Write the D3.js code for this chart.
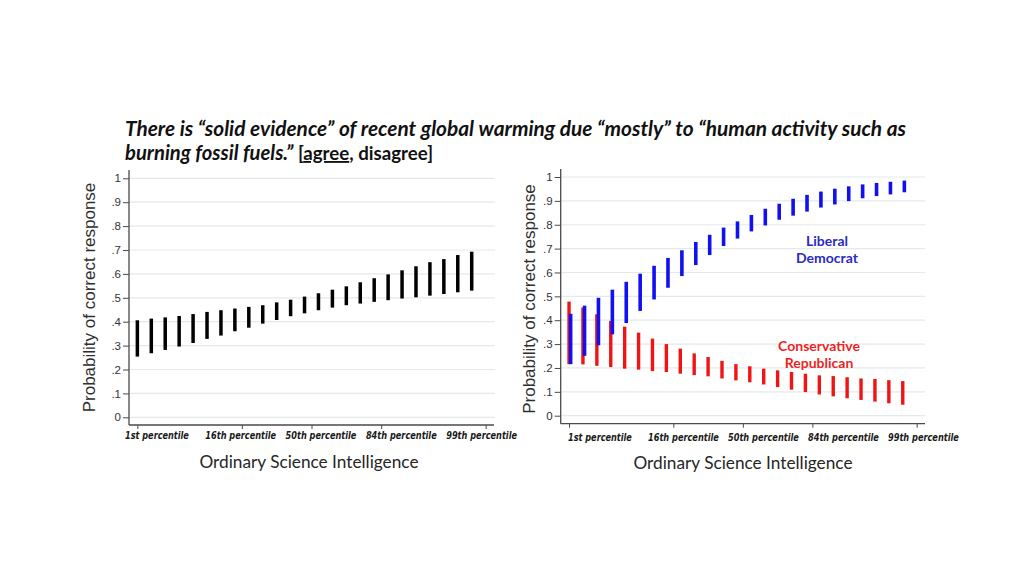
<!DOCTYPE html>
<html>
<head>
<meta charset="utf-8">
<script src="https://cdn.jsdelivr.net/npm/d3@7"></script>
<style>
  html, body { margin: 0; padding: 0; background: #fff; }
  svg { display: block; }
</style>
</head>
<body>
<svg id="chart" width="1024" height="576"></svg>
<script>
// ---------------- DATA ----------------
const titleLine1 = "There is \u201csolid evidence\u201d of recent global warming due \u201cmostly\u201d to \u201chuman activity such as";
const titleLine2a = "burning fossil fuels.\u201d";
const titleLine2b = " [";
const titleLine2c = "agree";
const titleLine2d = ", disagree]";

const yTitle = "Probability of correct response";
const xTitle = "Ordinary Science Intelligence";

// Ordinary Science Intelligence (z-score) at which each interval is shown
const osi = [-2.5, -2.3, -2.1, -1.9, -1.7, -1.5, -1.3, -1.1, -0.9, -0.7, -0.5, -0.3, -0.1,
             0.1, 0.3, 0.5, 0.7, 0.9, 1.1, 1.3, 1.5, 1.7, 1.9, 2.1, 2.3];

// Whole sample: lower / upper bounds
const allLo = [0.254, 0.268, 0.282, 0.296, 0.311, 0.328, 0.342, 0.360, 0.375, 0.392, 0.407, 0.423, 0.435,
               0.448, 0.459, 0.469, 0.476, 0.483, 0.490, 0.497, 0.502, 0.509, 0.516, 0.523, 0.530];
const allHi = [0.406, 0.413, 0.418, 0.424, 0.432, 0.441, 0.448, 0.455, 0.462, 0.469, 0.481, 0.492, 0.505,
               0.519, 0.534, 0.548, 0.565, 0.582, 0.598, 0.615, 0.632, 0.649, 0.662, 0.679, 0.693];

// Liberal Democrat
const libLo = [0.216, 0.251, 0.295, 0.341, 0.388, 0.439, 0.487, 0.536, 0.585, 0.631, 0.673, 0.711, 0.742,
               0.772, 0.797, 0.821, 0.838, 0.855, 0.872, 0.885, 0.899, 0.911, 0.920, 0.927, 0.936];
const libHi = [0.427, 0.461, 0.494, 0.528, 0.561, 0.595, 0.628, 0.661, 0.693, 0.728, 0.758, 0.788, 0.814,
               0.841, 0.867, 0.888, 0.909, 0.925, 0.939, 0.951, 0.961, 0.969, 0.975, 0.980, 0.985];

// Conservative Republican
const conLo = [0.216, 0.215, 0.209, 0.204, 0.197, 0.193, 0.187, 0.183, 0.176, 0.170, 0.165, 0.156, 0.148,
               0.140, 0.131, 0.120, 0.109, 0.099, 0.089, 0.081, 0.073, 0.066, 0.059, 0.052, 0.046];
const conHi = [0.478, 0.453, 0.425, 0.397, 0.373, 0.348, 0.323, 0.300, 0.281, 0.261, 0.246, 0.230, 0.216,
               0.207, 0.197, 0.190, 0.183, 0.176, 0.169, 0.166, 0.161, 0.156, 0.154, 0.149, 0.145];

const xTicks = [-2.5, -1, 0, 1, 2.5];
const xTickLabels = ["1st percentile", "16th percentile", "50th percentile", "84th percentile", "99th percentile"];
const yTicks = [0, 0.1, 0.2, 0.3, 0.4, 0.5, 0.6, 0.7, 0.8, 0.9, 1];
const yTickLabels = ["0", ".1", ".2", ".3", ".4", ".5", ".6", ".7", ".8", ".9", "1"];

const legendLib = ["Liberal", "Democrat"];
const legendCon = ["Conservative", "Republican"];

// ---------------- LAYOUT ----------------
const svg = d3.select("#chart");
svg.append("rect").attr("width", 1024).attr("height", 576).attr("fill", "#fff");

const panels = [
  { x0: 129, x1: 494, yTop: 170, y0: 417.3, y1: 178.3, axisY: 425, gridEnd: 495,
    labelStart: 125, labelStep: 80.3, labelBase: 438.5, titleX: 309, titleBase: 468,
    yTitleX: 89, yTitleY: 297.5 },
  { x0: 560.7, x1: 925, yTop: 169, y0: 415.7, y1: 177, axisY: 423.7, gridEnd: 925,
    labelStart: 568, labelStep: 80, labelBase: 440.5, titleX: 743, titleBase: 469,
    yTitleX: 529, yTitleY: 299 }
];

const gridColor = "#e4eaec";
const axisColor = "#4a4a4a";

// fit a text horizontally to a target width by scaling it
function fitWidth(sel, x, y, target) {
  sel.each(function () {
    const w = this.getComputedTextLength();
    const sx = w > 0 ? target / w : 1;
    d3.select(this).attr("transform", `translate(${x},${y}) scale(${sx},1)`);
  });
}

function drawPanel(p) {
  const g = svg.append("g");
  const x = d3.scaleLinear().domain([-2.62, 2.62]).range([p.x0, p.x1]);
  const y = d3.scaleLinear().domain([0, 1]).range([p.y0, p.y1]);

  // gridlines
  g.append("g").selectAll("line").data(yTicks).join("line")
    .attr("x1", p.x0).attr("x2", p.gridEnd)
    .attr("y1", d => y(d)).attr("y2", d => y(d))
    .attr("stroke", gridColor).attr("stroke-width", 1.2);

  // y axis
  const yAxis = d3.axisLeft(y).tickValues(yTicks)
    .tickFormat((d, i) => yTickLabels[i]).tickSize(6).tickPadding(2);
  const ya = g.append("g").attr("transform", `translate(${p.x0},0)`).call(yAxis);
  ya.select(".domain").remove();
  ya.selectAll(".tick line").attr("stroke", axisColor).attr("stroke-width", 1);
  ya.selectAll(".tick text").attr("fill", "#333")
    .style("font-family", "'Liberation Sans', Arial, sans-serif").style("font-size", "11.5px");
  g.append("line").attr("x1", p.x0).attr("x2", p.x0).attr("y1", p.yTop).attr("y2", p.axisY)
    .attr("stroke", axisColor).attr("stroke-width", 1.3);

  // x axis
  const xAxis = d3.axisBottom(x).tickValues(xTicks).tickFormat("").tickSize(4);
  const xa = g.append("g").attr("transform", `translate(0,${p.axisY})`).call(xAxis);
  xa.select(".domain").remove();
  xa.selectAll(".tick line").attr("stroke", axisColor).attr("stroke-width", 1);
  g.append("line").attr("x1", p.x0).attr("x2", p.x1).attr("y1", p.axisY).attr("y2", p.axisY)
    .attr("stroke", axisColor).attr("stroke-width", 1.3);

  // x tick labels (evenly spaced text boxes as in the original)
  const lab = g.append("g").selectAll("text").data(xTickLabels).join("text")
    .style("font-family", "'DejaVu Sans', Verdana, sans-serif")
    .style("font-weight", "bold").style("font-style", "italic")
    .style("font-size", "10.5px").attr("fill", "#1a1a1a")
    .text(d => d);
  lab.each(function (d, i) {
    fitWidth(d3.select(this), p.labelStart + i * p.labelStep, p.labelBase, i === 0 ? 64 : 71);
  });

  // x title
  g.append("text").attr("x", p.titleX).attr("y", p.titleBase)
    .attr("text-anchor", "middle")
    .attr("textLength", 219).attr("lengthAdjust", "spacingAndGlyphs")
    .style("font-family", "Lato, 'Open Sans', sans-serif").style("font-size", "17px")
    .attr("fill", "#262626").text(xTitle);

  // y title
  g.append("text")
    .attr("transform", `translate(${p.yTitleX},${p.yTitleY}) rotate(-90)`)
    .attr("text-anchor", "middle").attr("dy", "0.35em")
    .style("font-family", "'Liberation Sans', Arial, sans-serif").style("font-size", "17px")
    .attr("fill", "#2e2e2e").text(yTitle);

  return { g, x, y };
}

const L = drawPanel(panels[0]);
const R = drawPanel(panels[1]);

// Left: all respondents
L.g.append("g").selectAll("line").data(osi).join("line")
  .attr("x1", d => L.x(d)).attr("x2", d => L.x(d))
  .attr("y1", (d, i) => L.y(allLo[i])).attr("y2", (d, i) => L.y(allHi[i]))
  .attr("stroke", "#000").attr("stroke-width", 3.5);

// Right: Conservative Republican (red), then Liberal Democrat (blue) on top
R.g.append("g").selectAll("line").data(osi).join("line")
  .attr("x1", d => R.x(d)).attr("x2", d => R.x(d))
  .attr("y1", (d, i) => R.y(conLo[i])).attr("y2", (d, i) => R.y(conHi[i]))
  .attr("stroke", "#f01414").attr("stroke-width", 3.4);

R.g.append("g").selectAll("line").data(osi).join("line")
  .attr("x1", d => R.x(d) + 1.6).attr("x2", d => R.x(d) + 1.6)
  .attr("y1", (d, i) => R.y(libLo[i])).attr("y2", (d, i) => R.y(libHi[i]))
  .attr("stroke", "#1010f0").attr("stroke-width", 3.6);

// Legend labels
const legFont = "Lato, 'Open Sans', sans-serif";
R.g.append("g").selectAll("text").data(legendLib).join("text")
  .attr("x", 827).attr("y", (d, i) => 246 + i * 16.5)
  .attr("text-anchor", "middle")
  .style("font-family", legFont).style("font-weight", "bold").style("font-size", "14px")
  .attr("fill", "#2a2ac4").text(d => d);

R.g.append("g").selectAll("text").data(legendCon).join("text")
  .attr("x", 819).attr("y", (d, i) => 351 + i * 16.5)
  .attr("text-anchor", "middle")
  .style("font-family", legFont).style("font-weight", "bold").style("font-size", "14px")
  .attr("fill", "#ee2424").text(d => d);

// Title
const tFont = "Lato, 'Open Sans', sans-serif";
svg.append("text").attr("x", 125).attr("y", 136)
  .attr("textLength", 781).attr("lengthAdjust", "spacingAndGlyphs")
  .style("font-family", tFont).style("font-weight", "bold").style("font-style", "italic")
  .style("font-size", "20px").attr("fill", "#111").text(titleLine1);

const t2 = svg.append("text").attr("x", 125).attr("y", 160)
  .attr("textLength", 308).attr("lengthAdjust", "spacingAndGlyphs")
  .style("font-family", tFont).style("font-weight", "bold")
  .style("font-size", "20px").attr("fill", "#111");
t2.append("tspan").style("font-style", "italic").text(titleLine2a);
t2.append("tspan").style("font-size", "18.5px").text(titleLine2b);
t2.append("tspan").style("font-size", "18.5px").style("text-decoration", "underline").text(titleLine2c);
t2.append("tspan").style("font-size", "18.5px").text(titleLine2d);
</script>
</body>
</html>
